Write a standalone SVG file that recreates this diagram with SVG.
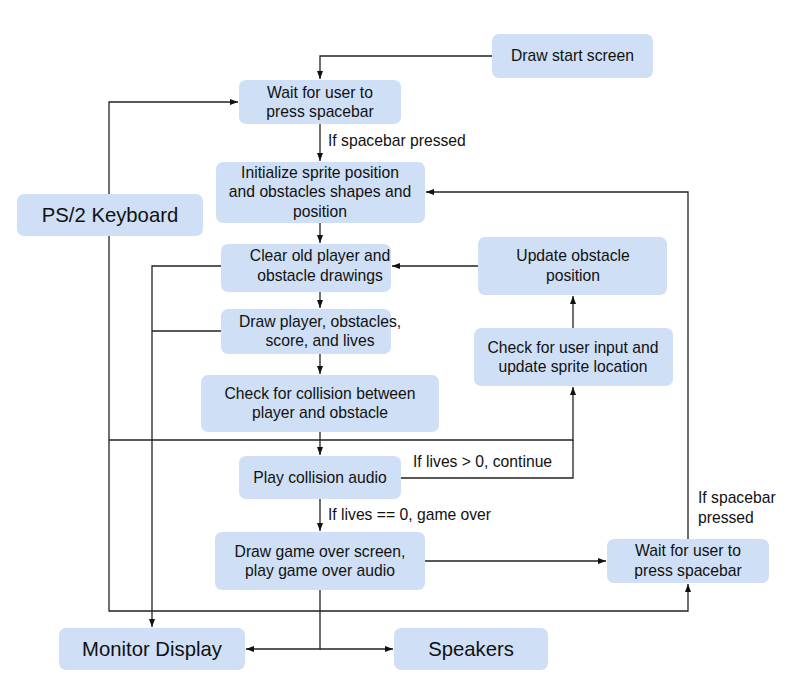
<svg xmlns="http://www.w3.org/2000/svg" width="796" height="689" viewBox="0 0 796 689">
<style>
.n{fill:#cfdff5;}
.t{font-family:"Liberation Sans",Arial,sans-serif;font-size:15.7px;fill:#111;text-anchor:middle;}
.b{font-family:"Liberation Sans",Arial,sans-serif;font-size:20.3px;fill:#111;text-anchor:middle;}
.l{font-family:"Liberation Sans",Arial,sans-serif;font-size:15.7px;fill:#111;}
.c{fill:none;stroke:#222;stroke-width:1.3;}
</style>
<defs>
<marker id="a" viewBox="0 0 8 8" refX="8" refY="4" markerWidth="8" markerHeight="8" markerUnits="userSpaceOnUse" orient="auto">
<path d="M0,1 L8,4 L0,7 Z" fill="#111"/>
</marker>
</defs>
<rect width="796" height="689" fill="#fff"/>
<g id="connectors">
<path class="c" d="M492,56 H320 V79" marker-end="url(#a)"/>
<path class="c" d="M320,124 V161" marker-end="url(#a)"/>
<path class="c" d="M109,194 V102 H238" marker-end="url(#a)"/>
<path class="c" d="M109,236 V611 H688 V584" marker-end="url(#a)"/>
<path class="c" d="M109,440 H573 V387" marker-end="url(#a)"/>
<path class="c" d="M320,223 V243" marker-end="url(#a)"/>
<path class="c" d="M320,292 V308" marker-end="url(#a)"/>
<path class="c" d="M320,354 V374" marker-end="url(#a)"/>
<path class="c" d="M320,432 V455" marker-end="url(#a)"/>
<path class="c" d="M401,478 H573 V440"/>
<path class="c" d="M320,499 V531" marker-end="url(#a)"/>
<path class="c" d="M425,561 H606" marker-end="url(#a)"/>
<path class="c" d="M688,539 V192 H426" marker-end="url(#a)"/>
<path class="c" d="M573,328 V296" marker-end="url(#a)"/>
<path class="c" d="M478,266 H392" marker-end="url(#a)"/>
<path class="c" d="M221,266 H152 V627" marker-end="url(#a)"/>
<path class="c" d="M221,331 H152"/>
<path class="c" d="M320,590 V649 H246" marker-end="url(#a)"/>
<path class="c" d="M320,649 H393" marker-end="url(#a)"/>
</g>
<g id="n-start"><rect class="n" x="492" y="34" width="161" height="44" rx="7"/><text class="t" x="572.5" y="61">Draw start screen</text></g>
<g id="n-wait1"><rect class="n" x="239" y="80" width="162" height="44" rx="7"/><text class="t" x="320" y="98">Wait for user to</text><text class="t" x="320" y="117">press spacebar</text></g>
<g id="n-init"><rect class="n" x="216" y="162" width="209" height="61" rx="7"/><text class="t" x="320" y="178">Initialize sprite position</text><text class="t" x="320" y="197">and obstacles shapes and</text><text class="t" x="320" y="217">position</text></g>
<g id="n-keyboard"><rect class="n" x="17" y="194" width="186" height="42" rx="7"/><text class="b" x="110" y="222">PS/2 Keyboard</text></g>
<g id="n-clear"><rect class="n" x="221" y="244" width="170" height="48" rx="7"/><text class="t" x="320" y="261">Clear old player and</text><text class="t" x="320" y="281">obstacle drawings</text></g>
<g id="n-update"><rect class="n" x="478" y="237" width="189" height="58" rx="7"/><text class="t" x="573" y="261">Update obstacle</text><text class="t" x="573" y="281">position</text></g>
<g id="n-draw"><rect class="n" x="221" y="309" width="170" height="45" rx="7"/><text class="t" x="320" y="327">Draw player, obstacles,</text><text class="t" x="320" y="346">score, and lives</text></g>
<g id="n-input"><rect class="n" x="474" y="328" width="199" height="58" rx="7"/><text class="t" x="573" y="353">Check for user input and</text><text class="t" x="573" y="372">update sprite location</text></g>
<g id="n-collision"><rect class="n" x="201" y="375" width="238" height="57" rx="7"/><text class="t" x="320" y="399">Check for collision between</text><text class="t" x="320" y="418">player and obstacle</text></g>
<g id="n-audio"><rect class="n" x="239" y="456" width="162" height="43" rx="7"/><text class="t" x="320" y="483">Play collision audio</text></g>
<g id="n-gameover"><rect class="n" x="215" y="532" width="210" height="58" rx="7"/><text class="t" x="320" y="557">Draw game over screen,</text><text class="t" x="320" y="576">play game over audio</text></g>
<g id="n-wait2"><rect class="n" x="607" y="539" width="162" height="44" rx="7"/><text class="t" x="688" y="556">Wait for user to</text><text class="t" x="688" y="576">press spacebar</text></g>
<g id="n-monitor"><rect class="n" x="59" y="628" width="186" height="42" rx="7"/><text class="b" x="152" y="656">Monitor Display</text></g>
<g id="n-speakers"><rect class="n" x="394" y="628" width="154" height="42" rx="7"/><text class="b" x="471" y="656">Speakers</text></g>
<g id="labels">
<text class="l" x="328" y="146">If spacebar pressed</text>
<text class="l" x="413" y="467">If lives &gt; 0, continue</text>
<text class="l" x="328" y="520">If lives == 0, game over</text>
<text class="l" x="698" y="503">If spacebar</text>
<text class="l" x="698" y="523">pressed</text>
</g>
</svg>
